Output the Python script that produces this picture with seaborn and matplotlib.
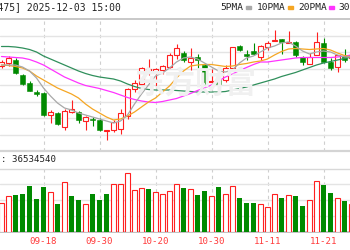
import matplotlib
matplotlib.use("Agg")
import matplotlib.pyplot as plt
import matplotlib.patches as mpatches
import seaborn as sns
import pandas as pd
import numpy as np

# ---------------- data ----------------
dates = ["09-10", "09-11", "09-12", "09-15", "09-16", "09-17", "09-18", "09-19", "09-22", "09-23",
         "09-24", "09-25", "09-26", "09-29", "09-30", "10-09", "10-10", "10-13", "10-14", "10-15",
         "10-16", "10-17", "10-20", "10-21", "10-22", "10-23", "10-24", "10-27", "10-28", "10-29",
         "10-30", "10-31", "11-03", "11-04", "11-05", "11-06", "11-07", "11-10", "11-11", "11-12",
         "11-13", "11-14", "11-17", "11-18", "11-19", "11-20", "11-21", "11-24", "11-25", "11-26",
         "11-27"]
tick_labels = ["09-18", "09-30", "10-20", "10-30", "11-11", "11-21"]

open_ = [11.68, 11.74, 11.80, 11.50, 11.34, 11.16, 11.13, 10.70, 10.73, 10.46,
         10.76, 10.75, 10.58, 10.62, 10.60, 10.39, 10.40, 10.43, 10.68, 11.23,
         11.33, 11.57, 11.57, 11.60, 11.67, 11.90, 11.93, 11.77, 11.85, 11.70,
         11.37, 11.40, 11.40, 11.65, 12.07, 11.93, 11.97, 11.87, 12.07, 12.18,
         12.21, 12.15, 12.15, 11.85, 11.73, 11.91, 12.13, 11.77, 11.67, 11.87,
         11.84]
close = [11.76, 11.84, 11.54, 11.33, 11.19, 11.13, 10.70, 10.75, 10.53, 10.79,
         10.81, 10.60, 10.65, 10.60, 10.40, 10.40, 10.55, 10.73, 11.22, 11.34,
         11.63, 11.62, 11.62, 11.67, 11.90, 12.04, 11.80, 11.83, 11.80, 11.37,
         11.38, 11.33, 11.63, 12.05, 12.01, 11.89, 11.93, 12.07, 12.13, 12.20,
         12.17, 12.17, 11.90, 11.77, 11.87, 12.15, 11.77, 11.65, 11.89, 11.80,
         11.90]
high = [11.80, 11.88, 11.84, 11.52, 11.38, 11.20, 11.16, 10.80, 10.76, 10.82,
        11.00, 10.78, 10.68, 10.67, 10.64, 10.40, 10.60, 10.83, 11.24, 11.40,
        11.67, 11.83, 11.64, 11.70, 11.94, 12.12, 11.98, 12.04, 11.93, 11.73,
        11.62, 11.43, 11.70, 12.07, 12.11, 12.00, 12.13, 12.10, 12.18, 12.40,
        12.23, 12.38, 12.18, 11.89, 11.95, 12.37, 12.25, 11.85, 11.91, 12.02,
        11.96]
low = [11.64, 11.68, 11.52, 11.30, 11.18, 11.08, 10.68, 10.54, 10.51, 10.40,
       10.74, 10.54, 10.40, 10.49, 10.38, 10.20, 10.37, 10.32, 10.62, 11.16,
       11.30, 11.51, 11.27, 11.52, 11.64, 11.82, 11.77, 11.60, 11.60, 11.33,
       11.37, 11.29, 11.37, 11.63, 11.97, 11.80, 11.90, 11.80, 12.00, 12.18,
       11.93, 12.15, 11.87, 11.70, 11.71, 11.90, 11.75, 11.60, 11.57, 11.77,
       11.80]

ma5 = [11.70, 11.70, 11.70, 11.66, 11.58, 11.44, 11.24, 11.08, 10.94, 10.84,
       10.80, 10.74, 10.70, 10.66, 10.62, 10.58, 10.54, 10.58, 10.70, 10.92,
       11.12, 11.30, 11.48, 11.54, 11.64, 11.76, 11.84, 11.86, 11.82, 11.74,
       11.66, 11.58, 11.56, 11.60, 11.74, 11.84, 11.88, 11.96, 12.04, 12.08,
       12.14, 12.16, 12.08, 11.98, 11.92, 11.96, 11.98, 11.96, 11.90, 11.86,
       11.86]
ma10 = [11.70, 11.69, 11.67, 11.64, 11.58, 11.48, 11.40, 11.32, 11.24, 11.18,
        11.12, 11.04, 10.92, 10.82, 10.74, 10.66, 10.60, 10.62, 10.68, 10.76,
        10.86, 10.96, 11.04, 11.16, 11.28, 11.44, 11.58, 11.68, 11.70, 11.71,
        11.71, 11.69, 11.67, 11.68, 11.71, 11.73, 11.76, 11.78, 11.82, 11.90,
        11.97, 12.02, 12.03, 12.02, 12.01, 12.02, 12.03, 12.00, 11.94, 11.89,
        11.86]
ma20 = [11.87, 11.86, 11.85, 11.84, 11.81, 11.76, 11.70, 11.62, 11.54, 11.46,
        11.40, 11.34, 11.29, 11.26, 11.23, 11.19, 11.15, 11.10, 11.05, 11.01,
        10.98, 10.96, 10.95, 10.97, 11.00, 11.03, 11.08, 11.13, 11.19, 11.24,
        11.30, 11.38, 11.46, 11.52, 11.59, 11.65, 11.71, 11.76, 11.76, 11.78,
        11.80, 11.82, 11.84, 11.85, 11.85, 11.85, 11.85, 11.85, 11.86, 11.88,
        11.90]
ma30 = [12.07, 12.07, 12.06, 12.04, 12.01, 11.96, 11.88, 11.82, 11.76, 11.70,
        11.64, 11.58, 11.53, 11.49, 11.46, 11.44, 11.42, 11.38, 11.32, 11.27,
        11.23, 11.21, 11.20, 11.20, 11.20, 11.19, 11.18, 11.17, 11.16, 11.16,
        11.16, 11.16, 11.17, 11.20, 11.23, 11.26, 11.30, 11.34, 11.38, 11.42,
        11.47, 11.51, 11.55, 11.60, 11.65, 11.70, 11.74, 11.77, 11.80, 11.83,
        11.86]

volume = [36.6, 45.1, 46.0, 47.2, 57.8, 41.3, 56.1, 50.2, 34.5, 62.9,
          44.7, 40.0, 34.5, 48.0, 40.0, 47.2, 59.9, 60.3, 73.9, 52.7,
          55.6, 53.6, 50.2, 47.2, 51.4, 59.9, 54.9, 54.4, 46.0, 51.4,
          44.7, 56.1, 47.6, 58.2, 42.2, 36.6, 35.8, 35.3, 30.7, 47.2,
          42.2, 46.0, 44.7, 32.8, 39.6, 64.1, 58.7, 48.9, 42.2, 38.7,
          34.5]  # millions
vol_up = [1, 1, 0, 0, 0, 0, 0, 1, 0, 1,
          0, 0, 1, 0, 0, 0, 1, 1, 1, 1,
          1, 0, 1, 1, 1, 1, 0, 1, 0, 0,
          1, 0, 1, 1, 0, 0, 0, 1, 1, 1,
          0, 1, 0, 0, 1, 1, 0, 0, 1, 0,
          1]
last_volume = "36534540"

# ---------------- style ----------------
sns.set_theme(style="white")
plt.rcParams["font.family"] = ["DejaVu Sans Mono", "Noto Sans CJK SC"]

RED = "#ff2020"
GREEN = "#008a00"
C5, C10, C20, C30 = "#a8a8a8", "#f5a623", "#ff33ff", "#2f8f5b"
GRID = "#e4e4e4"
VGRID = "#cfcfcf"

n = len(dates)
df = pd.DataFrame({"idx": np.arange(n), "date": dates, "open": open_, "close": close,
                   "high": high, "low": low, "ma5": ma5, "ma10": ma10, "ma20": ma20,
                   "ma30": ma30, "vol": np.array(volume) * 1e6, "vup": vol_up})
df["up"] = df["close"] >= df["open"]

W, H = 350, 250
fig = plt.figure(figsize=(3.5, 2.5), dpi=100)
fig.patch.set_facecolor("white")

def fy(px):
    return 1 - px / H

ax1 = fig.add_axes([0, fy(151), 1, (151 - 19) / H])
ax2 = fig.add_axes([0, fy(231.5), 1, (231.5 - 168.5) / H])

xl = (-1.5 / 7, (W - 1.5) / 7)
tick_idx = [dates.index(t) for t in tick_labels]

# price panel
ax1.set_xlim(*xl)
ax1.set_ylim(13 - 0.02 * 151, 13 - 0.02 * 19)
ax1.set_yticks([13 - 0.02 * p for p in (35.5, 52, 68.5, 85, 101.5, 118, 134.5)])
ax1.set_xticks(tick_idx)
ax1.tick_params(labelbottom=False, labelleft=False, length=0)
ax1.grid(axis="y", color=GRID, lw=1.0)
ax1.grid(axis="x", color=VGRID, lw=0.8, ls=(0, (3, 3)))
for s in ("left", "right"):
    ax1.spines[s].set_visible(False)
ax1.spines["top"].set_color("#c4c4c4")
ax1.spines["top"].set_linewidth(1.3)
ax1.spines["bottom"].set_color("#d4d4d4")
ax1.spines["bottom"].set_linewidth(1.6)

fig.text(195 / W, fy(84), "东方财富", family="Noto Sans CJK SC", fontsize=22,
         fontweight="bold", color="#f0f0f0", ha="center", va="center", zorder=0)

up = df[df["up"]]
dn = df[~df["up"]]
ax1.vlines(up["idx"], up["low"], up["high"], color=RED, lw=0.8, zorder=3)
ax1.vlines(dn["idx"], dn["low"], dn["high"], color=GREEN, lw=0.8, zorder=3)
ax1.bar(up["idx"], (up["close"] - up["open"]).clip(lower=0.006), bottom=up["open"], width=0.6,
        facecolor="white", edgecolor=RED, lw=0.8, zorder=4)
ax1.bar(dn["idx"], (dn["open"] - dn["close"]).clip(lower=0.006), bottom=dn["close"], width=0.62,
        color=GREEN, edgecolor=GREEN, lw=0.4, zorder=4)

for col, c in (("ma30", C30), ("ma20", C20), ("ma10", C10), ("ma5", C5)):
    sns.lineplot(data=df, x="idx", y=col, color=c, lw=0.9, ax=ax1, zorder=5)
ax1.set_xlabel("")
ax1.set_ylabel("")

# volume panel
ax2.set_xlim(*xl)
ax2.set_ylim(0, 8e7)
ax2.set_yticks([2e7, 4e7, 6e7])
ax2.set_xticks(tick_idx)
ax2.set_xticklabels(tick_labels, color="#ff3b3b", fontsize=6.6)
ax2.tick_params(labelleft=False, length=0, pad=4)
ax2.grid(axis="y", color=GRID, lw=1.0)
ax2.grid(axis="x", color=VGRID, lw=0.8, ls=(0, (3, 3)))
for s in ("left", "right"):
    ax2.spines[s].set_visible(False)
ax2.spines["top"].set_color("#d8d8d8")
ax2.spines["top"].set_linewidth(1.0)
ax2.spines["bottom"].set_color("#b8b8b8")
ax2.spines["bottom"].set_linewidth(1.2)

vu = df[df["vup"] == 1]
vd = df[df["vup"] == 0]
ax2.bar(vu["idx"], vu["vol"], width=0.6, facecolor="white", edgecolor=RED, lw=0.8, zorder=3)
ax2.bar(vd["idx"], vd["vol"], width=0.62, color=GREEN, lw=0, zorder=3)

# header texts
fig.text(121 / W, fy(7.5), "[000475] 2025-12-03 15:00", ha="right", va="center",
         fontsize=7, color="#222222")
items = [("5PMA", C5, 220), ("10PMA", C10, 257), ("20PMA", C20, 298), ("30PMA", C30, 338)]
for label, c, xpx in items:
    t = fig.text(xpx / W, fy(7.5), label, ha="left", va="center", fontsize=6.8, color="#222222")
    wpx = len(label) * 0.602 * 6.8 * 100 / 72
    fig.patches.append(mpatches.Rectangle(((xpx + wpx + 3) / W, fy(9)), 5 / W, 2.5 / H,
                                          transform=fig.transFigure, color=c, figure=fig))

fig.text(1 / W, fy(160), ": " + last_volume, ha="left", va="center", fontsize=6.6,
         color="#222222")

fig.savefig("out.png", dpi=100, facecolor="white")
